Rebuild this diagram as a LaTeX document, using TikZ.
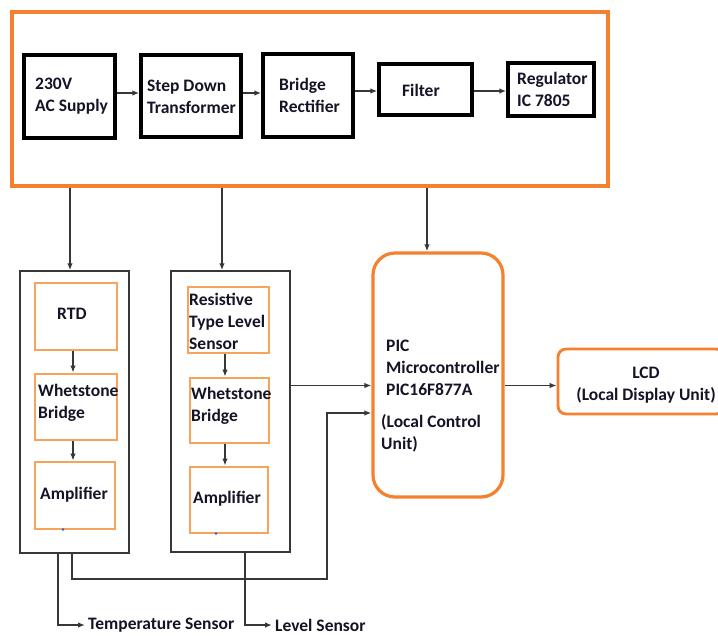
\documentclass[tikz,border=0pt]{standalone}
\usepackage{fontspec}
\setmainfont{Carlito}
\usetikzlibrary{arrows.meta,fit,calc}
\definecolor{orgA}{RGB}{245,128,46}
\definecolor{orgB}{RGB}{248,163,92}
\definecolor{gry}{RGB}{55,55,55}
\definecolor{txt}{RGB}{20,20,38}
\definecolor{dotc}{RGB}{40,90,210}
\begin{document}
\begin{tikzpicture}[x=1pt,y=-1pt,
  topbox/.style={draw=orgA,line width=3.5pt,inner sep=0pt},
  blk/.style={draw=black,line width=3.5pt,fill=white,inner sep=0pt},
  sbox/.style={draw=gry,line width=1.4pt,inner sep=0pt},
  obox/.style={draw=orgB,line width=2.8pt,inner sep=0pt},
  picbox/.style={draw=orgA,line width=3.2pt,rounded corners=22pt,inner sep=0pt},
  lcdbox/.style={draw=orgA,line width=2.8pt,rounded corners=8pt,inner sep=0pt},
  lbl/.style={font=\bfseries\fontsize{17.5}{22}\selectfont,align=left,inner sep=0pt,text=txt},
  conn/.style={draw=gry,line width=1.4pt,-{Latex[length=7pt,width=5.5pt]}},
  wire/.style={draw=gry,line width=1.4pt}]
\clip (0,0) rectangle (718,635);
\fill[white] (0,0) rectangle (718,635);

% power supply section
\node[topbox, fit={(12,12)(608,186)}] (top) {};
\node[blk, fit={(24,55)(115,138)}] (ac) {};
\node[blk, fit={(141,55)(241,137)}] (sd) {};
\node[blk, fit={(263,54)(353,137)}] (br) {};
\node[blk, fit={(379,64)(472,115)}] (fl) {};
\node[blk, fit={(508,63)(594,116)}] (rg) {};
\node[lbl, anchor=west] (tac) at (35,96) {230V\\AC Supply};
\node[lbl, anchor=west] (tsd) at (147,96.5) {Step Down\\Transformer};
\node[lbl, anchor=west] (tbr) at (279,95) {Bridge\\Rectifier};
\node[lbl, anchor=west] (tfl) at (402,90) {Filter};
\node[lbl, anchor=west] (trg) at (517,89.5) {Regulator\\IC 7805};

\coordinate (h1) at (0,93);
\coordinate (h2) at (0,91);
\draw[conn] (ac.east |- h1) -- (sd.west |- h1);
\draw[conn] (sd.east |- h1) -- (br.west |- h1);
\draw[conn] (br.east |- h2) -- (fl.west |- h2);
\draw[conn] (fl.east |- h2) -- (rg.west |- h2);

% sensor groups
\node[sbox, fit={(20,271)(129,553)}] (lb) {};
\node[sbox, fit={(171,271)(290,552)}] (mb) {};
\node[obox, fit={(35,283)(117,350)}] (rtd) {};
\node[obox, fit={(35,374)(117,440)}] (wb1) {};
\node[obox, fit={(35,462)(115,529)}] (am1) {};
\node[obox, fit={(188,287)(269,353)}] (rs) {};
\node[obox, fit={(190,378)(269,443)}] (wb2) {};
\node[obox, fit={(190,467)(268,533)}] (am2) {};
\node[lbl, anchor=west] (trtd) at (57,314) {RTD};
\node[lbl, anchor=west] (twb1) at (38,402.5) {Whetstone\\Bridge};
\node[lbl, anchor=west] (tam1) at (40,495) {Amplifier};
\node[lbl, anchor=west] (trs) at (189,321.5) {Resistive\\Type Level\\Sensor};
\node[lbl, anchor=west] (twb2) at (191,406) {Whetstone\\Bridge};
\node[lbl, anchor=west] (tam2) at (193,499) {Amplifier};
\fill[dotc] (am1.south) ++(-12,-1) circle (1.4pt);
\fill[dotc] (am2.south) ++(-13,-1) circle (1.4pt);

\coordinate (v1) at (73,0);
\coordinate (v2) at (225,0);
\draw[conn] (rtd.south -| v1) -- (wb1.north -| v1);
\draw[conn] (wb1.south -| v1) -- (am1.north -| v1);
\draw[conn] (rs.south -| v2) -- (wb2.north -| v2);
\draw[conn] (wb2.south -| v2) -- (am2.north -| v2);

% controller and display
\node[picbox, fit={(373,253)(503,497)}] (pic) {};
\node[lcdbox, fit={(558,349)(724,414)}] (lcd) {};
\node[lbl, anchor=west] (tpic) at (386,368) {PIC\\Microcontroller\\PIC16F877A};
\node[lbl, anchor=west] (tloc) at (381,433) {(Local Control\\Unit)};
\node[lbl, align=center] (tlcd) at (646,385) {LCD\\(Local Display Unit)};

% supply lines
\coordinate (d1) at (70,0);
\coordinate (d2) at (222,0);
\coordinate (d3) at (427,0);
\draw[conn] (top.south -| d1) -- (lb.north -| d1);
\draw[conn] (top.south -| d2) -- (mb.north -| d2);
\draw[conn] (top.south -| d3) -- (pic.north -| d3);

% signals to PIC
\coordinate (a1) at (0,385.5);
\coordinate (a2) at (0,413);
\coordinate (j1) at (72,579);
\coordinate (j2) at (327,579);
\draw[conn] (mb.east |- a1) -- (pic.west |- a1);
\draw[conn] (lb.south -| j1) -- (j1) -- (j2) |- (pic.west |- a2);
\draw[conn] (pic.east |- a1) -- (lcd.west |- a1);

% sensor outputs
\node[lbl, anchor=west] (temp) at (88,625) {Temperature Sensor};
\node[lbl, anchor=west] (lev) at (275,625) {Level Sensor};
\coordinate (t0) at (58,0);
\coordinate (l0) at (245,0);
\draw[conn, shorten >=3pt] (lb.south -| t0) |- (temp.west);
\draw[conn, shorten >=3pt] (mb.south -| l0) |- (lev.west);
\end{tikzpicture}
\end{document}
